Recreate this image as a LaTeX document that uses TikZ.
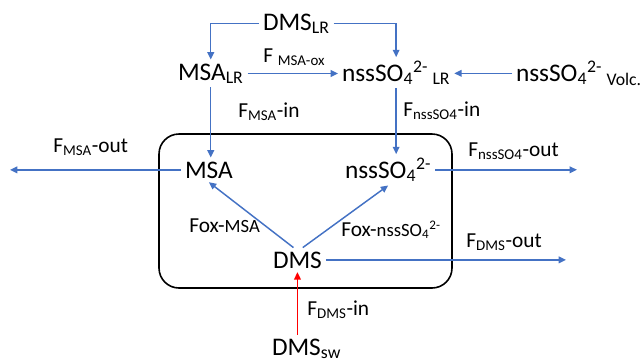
\documentclass[tikz,border=0pt]{standalone}
\usepackage{fontspec}
\setmainfont{Carlito}
\usetikzlibrary{arrows.meta, positioning}
\definecolor{arrowblue}{RGB}{68,114,196}
\tikzstyle{pool} = [inner sep=0pt, outer sep=3pt, anchor=base west, font=\fontsize{19}{22}\selectfont]
\tikzstyle{flux} = [inner sep=0pt, anchor=base west, font=\fontsize{16}{19}\selectfont]
\tikzstyle{flow} = [draw=arrowblue, line width=1.1pt, -{Triangle[length=5.5pt, width=5pt]}]
\tikzstyle{seabox} = [rectangle, draw, line width=1.2pt, rounded corners=15pt, minimum width=219.75pt, minimum height=115.5pt]

\begin{document}
\begin{tikzpicture}[x=0.75pt, y=-0.75pt]
        \useasboundingbox (0, 0) rectangle (641, 362);
        \node[seabox] at (305.5, 211) (Sea) {};

        \node[pool] at (259, 30) (DMSLR) {DMS\textsubscript{LR}};
        \node[pool] at (174, 80) (MSALR) {MSA\textsubscript{LR}};
        \node[pool] at (338, 81) (SO4LR) {nssSO\textsubscript{4}\textsuperscript{2-}\,\textsubscript{LR}};
        \node[pool] at (512, 81) (SO4Volc) {nssSO\textsubscript{4}\textsuperscript{2-}\,\textsubscript{Volc.}};
        \node[pool] at (181, 178) (MSA) {MSA};
        \node[pool] at (341, 178) (SO4) {nssSO\textsubscript{4}\textsuperscript{2-}};
        \node[pool] at (269, 268) (DMS) {DMS};
        \node[pool] at (268, 355) (DMSsw) {DMS\textsubscript{sw}};

        \coordinate (MSAout) at (10, 169);
        \coordinate (SO4out) at (577, 169);
        \coordinate (DMSout) at (566, 259);

        \node[flux] at (263, 62) (FMSAox) {F~\textsubscript{MSA-ox}};
        \node[flux] at (238, 117) (FMSAin) {F\textsubscript{MSA}-in};
        \node[flux] at (403, 116) (FSO4in) {F\textsubscript{nssSO4}-in};
        \node[flux] at (53, 152) (FMSAout) {F\textsubscript{MSA}-out};
        \node[flux] at (468, 156) (FSO4out) {F\textsubscript{nssSO4}-out};
        \node[flux] at (189, 232) (FoxMSA) {Fox-{\fontsize{14}{16}\selectfont MSA}};
        \node[flux] at (341, 236) (FoxSO4) {Fox-{\fontsize{14}{16}\selectfont nssSO\textsubscript{4}\textsuperscript{2-}}};
        \node[flux] at (466, 247) (FDMSout) {F\textsubscript{DMS}-out};
        \node[flux] at (307, 315) (FDMSin) {F\textsubscript{DMS}-in};

        \draw[flow] (DMSLR.west) -| (MSALR.north);
        \draw[flow] (DMSLR.east) -| (SO4LR.north);
        \draw[flow] (MSALR.east) -- (MSALR.east -| SO4LR.west);
        \draw[flow] (SO4Volc.west) -- (SO4Volc.west -| SO4LR.east);
        \draw[flow] (MSALR.south) -- (MSALR.south |- MSA.north);
        \draw[flow] (SO4LR.south) -- (SO4LR.south |- SO4.north);

        \draw[flow] (MSA.west) -- (MSA.west -| MSAout);
        \draw[flow] (SO4.east) -- (SO4.east -| SO4out);
        \draw[flow] ([xshift=-3pt]DMS.north) -- (MSA.south);
        \draw[flow] ([xshift=4pt]DMS.north) -- (SO4.south);
        \draw[flow] (DMS.east) -- (DMS.east -| DMSout);

        \draw[draw=red, line width=1.1pt, -{Triangle[length=5.5pt, width=5pt]}] (DMSsw.north -| DMS.south) -- (DMS.south);
    \end{tikzpicture}
\end{document}
